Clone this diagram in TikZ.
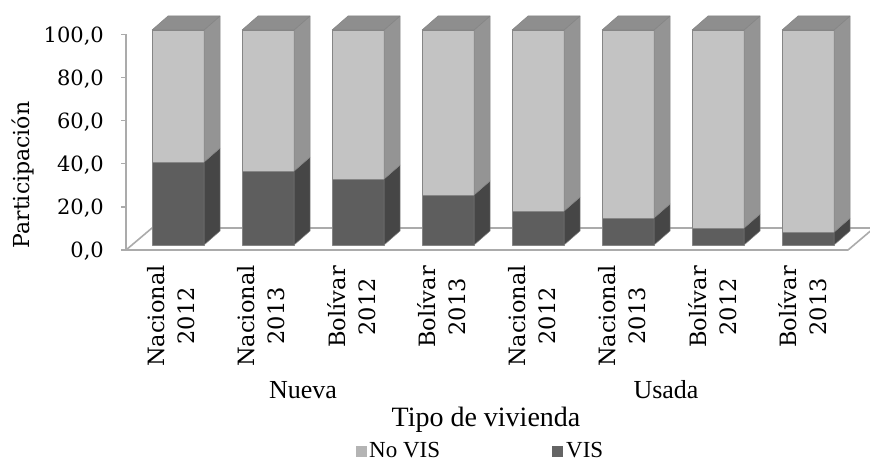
\documentclass[tikz,border=0pt]{standalone}
\usepackage{fontspec}
\setmainfont{DejaVu Serif}
\newfontfamily\tnr{Liberation Serif}
\definecolor{lfront}{HTML}{C3C3C3}
\definecolor{lside}{HTML}{949494}
\definecolor{dfront}{HTML}{5E5E5E}
\definecolor{dside}{HTML}{464646}
\definecolor{topc}{HTML}{8E8E8E}
\definecolor{floorc}{HTML}{ABABAB}
\definecolor{barline}{HTML}{858585}
\definecolor{legl}{HTML}{B4B4B4}
\definecolor{legd}{HTML}{646464}
\begin{document}
\begin{tikzpicture}[x=1pt,y=-1pt,
  ticklbl/.style={inner sep=0pt, anchor=base east, font=\fontsize{21}{25}\selectfont},
  catlbl/.style={inner sep=0pt, rotate=90, anchor=east, align=center, font=\fontsize{22.5}{30}\selectfont},
  grplbl/.style={inner sep=0pt, anchor=base, font=\tnr\fontsize{26}{30}\selectfont},
  titlbl/.style={inner sep=0pt, anchor=base, font=\tnr\fontsize{28}{32}\selectfont},
  leglbl/.style={inner sep=0pt, anchor=base west, font=\tnr\fontsize{23}{27}\selectfont},
  legsq/.style={inner sep=0pt, minimum size=11pt, anchor=center},
  face/.style={draw=barline, line width=0.5pt, line join=round},
  axisline/.style={draw=floorc, line width=1.6pt}]
\useasboundingbox (0,0) rectangle (870,462);
% floor
\draw[axisline, fill=white, line join=round] (126,250) -- (848,250) -- (874,228) -- (152,228) -- cycle;
% vertical axis and ticks
\draw[axisline] (126,34.5) -- (126,250);
\foreach \val/\txt in {0/{0,0},20/{20,0},40/{40,0},60/{60,0},80/{80,0},100/{100,0}} {
  \pgfmathsetmacro\yy{250-2.155*\val}
  \draw[floorc, line width=1.4pt] (121,\yy) -- (126,\yy);
  \node[ticklbl] (t\val) at (104,\yy+7.6) {\txt};
}
% bars
\foreach \v [count=\i from 0] in {38.6,34.4,30.7,23.3,15.8,12.6,7.9,6.0} {
  \pgfmathsetmacro\L{152+90*\i}
  \pgfmathsetmacro\R{\L+52}
  \pgfmathsetmacro\Y{245-2.15*\v}
  \filldraw[face, fill=dfront] (\L,245) rectangle (\R,\Y);
  \filldraw[face, fill=lfront] (\L,\Y) rectangle (\R,30);
  \filldraw[face, fill=dside] (\R,245) -- (\R+16,231) -- (\R+16,\Y-14) -- (\R,\Y) -- cycle;
  \filldraw[face, fill=lside] (\R,\Y) -- (\R+16,\Y-14) -- (\R+16,16) -- (\R,30) -- cycle;
  \filldraw[face, fill=topc] (\L,30) -- (\L+16,16) -- (\R+16,16) -- (\R,30) -- cycle;
}
% y axis title
\node[inner sep=0pt, rotate=90, font=\fontsize{22}{26}\selectfont] (ytitle) at (23,175) {Participación};
% category labels
\node[catlbl] (c1) at (171,265) {Nacional\\2012};
\node[catlbl] (c2) at (261,265) {Nacional\\2013};
\node[catlbl] (c3) at (352,266) {Bolívar\\2012};
\node[catlbl] (c4) at (442,266) {Bolívar\\2013};
\node[catlbl] (c5) at (532,265) {Nacional\\2012};
\node[catlbl] (c6) at (622,265) {Nacional\\2013};
\node[catlbl] (c7) at (713,266) {Bolívar\\2012};
\node[catlbl] (c8) at (803,266) {Bolívar\\2013};
% group labels
\node[grplbl] (gnueva) at (303,398) {Nueva};
\node[grplbl] (gusada) at (666,398) {Usada};
\node[titlbl] (xtitle) at (486,426) {Tipo de vivienda};
% legend
\node[legsq, fill=legl] (sq1) at (361,451) {};
\node[leglbl] (l1) at (369,457.5) {No VIS};
\node[legsq, fill=legd] (sq2) at (557.5,451) {};
\node[leglbl] (l2) at (566,457.5) {VIS};
\end{tikzpicture}
\end{document}
